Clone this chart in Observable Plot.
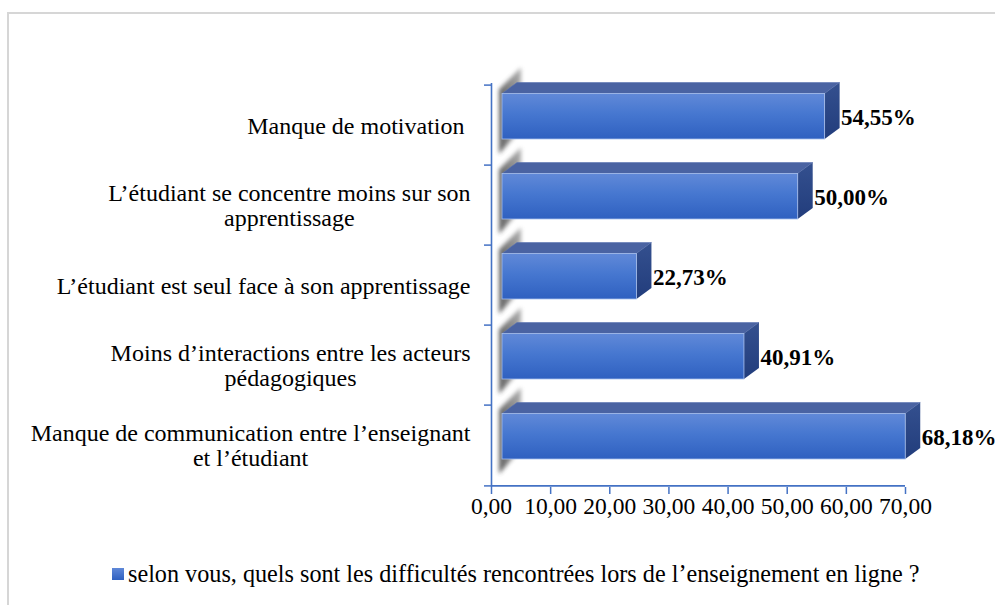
<!DOCTYPE html>
<html><head><meta charset="utf-8">
<script src="https://cdn.jsdelivr.net/npm/d3@7"></script>
<script src="https://cdn.jsdelivr.net/npm/@observablehq/plot@0.6"></script>
<style>
body{margin:0;background:#fff;width:995px;height:605px;overflow:hidden;position:relative;font-family:"Liberation Serif","Times New Roman",serif;}
#frame{position:absolute;left:7px;top:12px;width:1200px;height:800px;border-left:2px solid #d6d6d6;border-top:2px solid #d6d6d6;}
#chart{position:absolute;left:0;top:0;}
#legend{position:absolute;left:112px;top:562px;display:flex;align-items:center;font-size:24.2px;line-height:1;color:#000;white-space:nowrap;}
#legend .sw{display:inline-block;width:12px;height:12px;background:linear-gradient(#5f88d8,#2f60c0);margin-right:4px;}
</style></head><body>
<div id="frame"></div>
<div id="chart"></div>
<div id="legend"><span class="sw"></span><span id="legtext"></span></div>
<script>
const categories = [
  "Manque de motivation ",
  "L’étudiant se concentre moins sur son\napprentissage",
  "L’étudiant est seul face à son apprentissage",
  "Moins d’interactions entre les acteurs\npédagogiques",
  "Manque de communication entre l’enseignant\net l’étudiant"
];
const values = [54.55, 50.00, 22.73, 40.91, 68.18];
const xTicks = [0, 10, 20, 30, 40, 50, 60, 70];
const seriesName = "selon vous, quels sont les difficultés rencontrées lors de l’enseignement en ligne ?";

const W = 995, H = 545, mL = 491, mR = 90, mT = 83, mB = 58;
const blue = "#4472c4";
const catFont = 24;
const fmt = v => v.toFixed(2).replace(".", ",");
const pxPerUnit = (W - mL - mR) / 70;
const bw = (H - mT - mB) / categories.length;

const ctx = document.createElement("canvas").getContext("2d");
ctx.font = catFont + 'px "Liberation Serif"';
const rows = categories.map((c, i) => {
  const w = d3.max(c.split("\n"), l => ctx.measureText(l).width);
  return {cat: c, value: values[i], lx: -(21 + w / 2) / pxPerUnit};
});

function box3d(index, scales, vals, dimensions) {
  const g = d3.create("svg:g");
  const defs = g.append("defs");
  const fg = defs.append("linearGradient").attr("id", "frontGrad").attr("x1", 0).attr("y1", 0).attr("x2", 0).attr("y2", 1);
  fg.append("stop").attr("offset", "0%").attr("stop-color", "#6189d8");
  fg.append("stop").attr("offset", "45%").attr("stop-color", "#4677d0");
  fg.append("stop").attr("offset", "100%").attr("stop-color", "#2f60c0");
  const sg = defs.append("linearGradient").attr("id", "sideGrad").attr("x1", 0).attr("y1", 0).attr("x2", 0).attr("y2", 1);
  sg.append("stop").attr("offset", "0%").attr("stop-color", "#34508f");
  sg.append("stop").attr("offset", "100%").attr("stop-color", "#223d7c");
  const shg = defs.append("linearGradient").attr("id", "shGrad").attr("x1", 0).attr("y1", 0).attr("x2", 1).attr("y2", 0);
  shg.append("stop").attr("offset", "0%").attr("stop-color", "#3a3a3a");
  shg.append("stop").attr("offset", "100%").attr("stop-color", "#9a9a9a");
  defs.append("filter").attr("id", "shBlur").attr("x", "-50%").attr("y", "-50%").attr("width", "200%").attr("height", "200%")
    .append("feGaussianBlur").attr("stdDeviation", 2);
  const DX = 15, DY = 11;
  const line = pts => "M" + pts.map(p => p.join(",")).join("L") + "Z";
  for (const i of index) {
    const X0 = vals.x1[i] + 11, X1 = vals.x2[i] + 11;
    const T = vals.y[i] + 8.5, B = T + 45.5;
    g.append("path").attr("d", line([[X0 - 3, B + 15], [X0 - 3, T - 4], [X0 + 19, T - 26], [X0 + 19, B - 10]]))
      .attr("fill", "url(#shGrad)").attr("opacity", 0.8).attr("filter", "url(#shBlur)");
    g.append("path").attr("d", line([[X0, T], [X1, T], [X1 + DX, T - DY], [X0 + DX, T - DY]]))
      .attr("fill", "#4a63a2").attr("stroke", "#5a74b2").attr("stroke-width", 0.6);
    g.append("path").attr("d", line([[X1, T], [X1 + DX, T - DY], [X1 + DX, B - DY], [X1, B]]))
      .attr("fill", "url(#sideGrad)");
    g.append("rect").attr("x", X0).attr("y", T).attr("width", X1 - X0).attr("height", B - T)
      .attr("fill", "url(#frontGrad)").attr("stroke", "#a6bdea").attr("stroke-width", 0.8);
  }
  return g.node();
}

const chart = Plot.plot({
  width: W, height: H,
  marginLeft: mL, marginRight: mR, marginTop: mT, marginBottom: mB,
  style: {fontFamily: '"Liberation Serif", "Times New Roman", serif', fontSize: "23.5px", color: "black", background: "transparent", overflow: "visible"},
  x: {domain: [0, 70]},
  y: {domain: categories, padding: 0},
  marks: [
    Plot.axisY({tickSize: 7, dy: -bw / 2, tickFormat: () => "", stroke: blue, strokeWidth: 1.5, label: null}),
    Plot.axisY({ticks: [categories[categories.length - 1]], tickSize: 7, dy: bw / 2, tickFormat: () => "", stroke: blue, strokeWidth: 1.5, label: null}),
    Plot.axisX({ticks: xTicks, tickSize: 7, tickPadding: 3, tickFormat: fmt, stroke: blue, strokeWidth: 1.5, fill: "black", label: null}),
    Plot.ruleX([0], {stroke: blue, strokeWidth: 1.6}),
    Plot.ruleY([categories[categories.length - 1]], {x1: 0, x2: 70, dy: bw / 2, stroke: blue, strokeWidth: 1.6}),
    Plot.barX(rows, {x: "value", y: "cat", render: box3d}),
    Plot.text(rows, {x: "value", y: "cat", text: d => fmt(d.value) + "%", dx: 27, dy: -8, textAnchor: "start", fontWeight: "bold", fontSize: 23}),
    Plot.text(rows, {x: "lx", y: "cat", text: "cat", textAnchor: "middle", lineAnchor: "middle", lineHeight: 1.06, fontSize: catFont})
  ]
});
document.getElementById("chart").append(chart);
document.getElementById("legtext").textContent = seriesName;
</script>
</body></html>
